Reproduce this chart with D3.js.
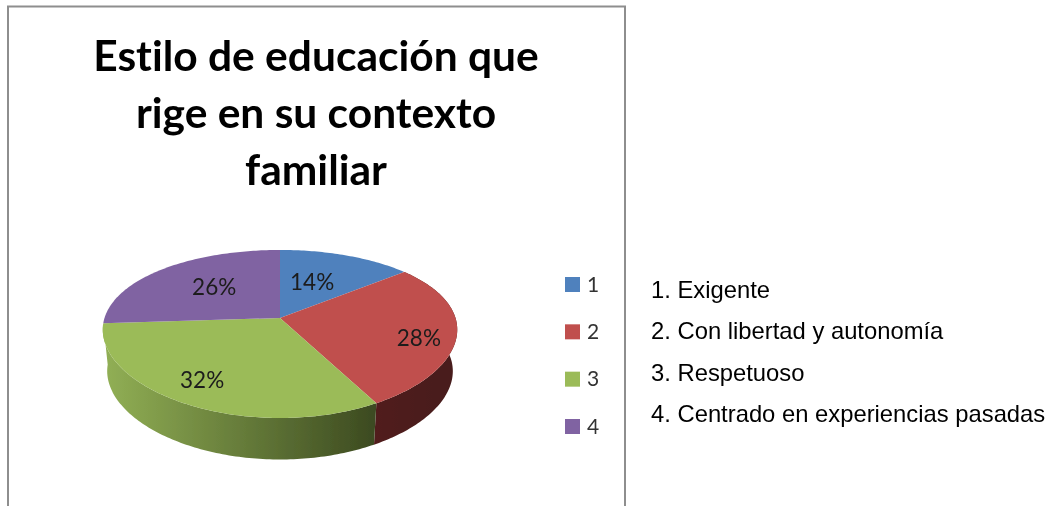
<!DOCTYPE html>
<html><head><meta charset="utf-8">
<script src="https://cdn.jsdelivr.net/npm/d3@7"></script>
<style>html,body{margin:0;padding:0;background:#fff}svg{display:block}text{font-variant-ligatures:none}</style></head>
<body><svg id="c" width="1058" height="506"></svg>
<script>
const categories = ["1","2","3","4"];
const values = [14,28,32,26];
const sliceColors = ["#4f81bd","#c0504d","#9bbb59","#8064a2"];
const titleLines = ["Estilo de educación que","rige en su contexto","familiar"];
const notes = ["1. Exigente","2. Con libertad y autonomía","3. Respetuoso","4. Centrado en experiencias pasadas"];

const W=1058,H=506;
const svg=d3.select("#c");
const defs=svg.append("defs");
defs.append("filter").attr("id","soft").append("feGaussianBlur").attr("stdDeviation",0.45);
const root=svg.append("g").attr("filter","url(#soft)");

// Frame, open at the bottom of the picture
root.append("path").attr("d",`M8,${H}V6.5H625V${H}`).attr("fill","none").attr("stroke","#8e8e8e").attr("stroke-width",2);

// Title
root.append("g").selectAll("text").data(titleLines).join("text")
  .attr("x",316).attr("y",(d,i)=>71+i*57).attr("text-anchor","middle")
  .attr("font-family","Lato").attr("font-weight",700).attr("font-size",42.5).attr("fill","#000").text(d=>d);

// Perspective projection of the pie disc
const PX=0.14,PY=0.19;
const sx=d3.scaleLinear().domain([-1,1]).range([280-175.5,280+175.5]);
const sy=d3.scaleLinear().domain([-1,1]).range([318-81,318+81]);
function project(u,v,k=1,dy=0){
  return [sx(u/(1-PX*v)*k), sy(v/(1-PY*v))+dy];
}
const polar=(a,r=1)=>[r*Math.sin(a),-r*Math.cos(a)];
const pie=d3.pie().sort(null).value(d=>d)(values);
const line=d3.line();
const STEP=Math.PI/180;
const rim=(a0,a1,k,dy)=>{const pts=[],n=Math.max(2,Math.ceil((a1-a0)/STEP));
  for(let i=0;i<=n;i++){const a=a0+(a1-a0)*i/n;const [u,v]=polar(a);pts.push(project(u,v,k,dy));}return pts;};

// Wall gradients
const wallStops=[
 ["#3a5f8c","#2a4a70"],
 ["#511f1d","#471b1a"],
 ["#90ae54","#3c4a20"],
 ["#5f4a7a","#3e2f52"]];
wallStops.forEach((s,i)=>{
  const g=defs.append("linearGradient").attr("id","wall"+i).attr("gradientUnits","userSpaceOnUse")
    .attr("x1",i==2?108:375).attr("x2",i==2?375:457).attr("y1",0).attr("y2",0);
  g.append("stop").attr("offset",0).attr("stop-color",s[0]);
  g.append("stop").attr("offset",1).attr("stop-color",s[1]);
});
// Walls of the slices that face the viewer; the top disc overlaps the back part
const DEPTH=41.5,NARROW=0.975;
const facesViewer=d=>polar((d.startAngle+d.endAngle)/2)[1]>0;
root.append("g").selectAll("path").data(pie).join("path")
  .filter(facesViewer)
  .attr("d",d=>{const top=rim(d.startAngle,d.endAngle,1,0),bot=rim(d.startAngle,d.endAngle,NARROW,DEPTH).reverse();
    return line(top.concat(bot))+"Z";})
  .attr("fill",d=>`url(#wall${d.index})`);
// Top slices
root.append("g").selectAll("path").data(pie).join("path")
  .attr("d",d=>line([project(0,0)].concat(rim(d.startAngle,d.endAngle,1,0)))+"Z")
  .attr("fill",(d,i)=>sliceColors[i]);

// Data labels
const labelRadius=[0.5,0.8,0.77,0.55], labelNudge=[[-3,-2],[-2,8],[-6,0],[1,-2]];
const total=d3.sum(values);
root.append("g").selectAll("text").data(pie).join("text")
  .attr("transform",(d,i)=>{const [u,v]=polar((d.startAngle+d.endAngle)/2,labelRadius[i]);
    const [x,y]=project(u,v);return `translate(${x+labelNudge[i][0]},${y+labelNudge[i][1]+7.5})`;})
  .attr("text-anchor","middle").attr("font-family","Lato").attr("font-size",22.5).attr("fill","#1c1c1c")
  .text(d=>Math.round(d.value/total*100)+"%");

// Legend
const ly=d3.scalePoint().domain(categories).range([284.5,426.5]);
const lg=root.append("g").selectAll("g").data(categories).join("g").attr("transform",d=>`translate(565,${ly(d)})`);
lg.append("rect").attr("x",0).attr("y",-7.5).attr("width",15).attr("height",15).attr("fill",(d,i)=>sliceColors[i]);
lg.append("text").attr("x",22).attr("y",7).attr("font-family","Lato").attr("font-size",21).attr("fill","#333").text(d=>d);

// Key list
root.append("g").selectAll("text").data(notes).join("text")
  .attr("x",651).attr("y",(d,i)=>298+i*41.3).attr("font-family","Liberation Sans").attr("font-size",23.8).attr("fill","#000").text(d=>d);
</script></body></html>
